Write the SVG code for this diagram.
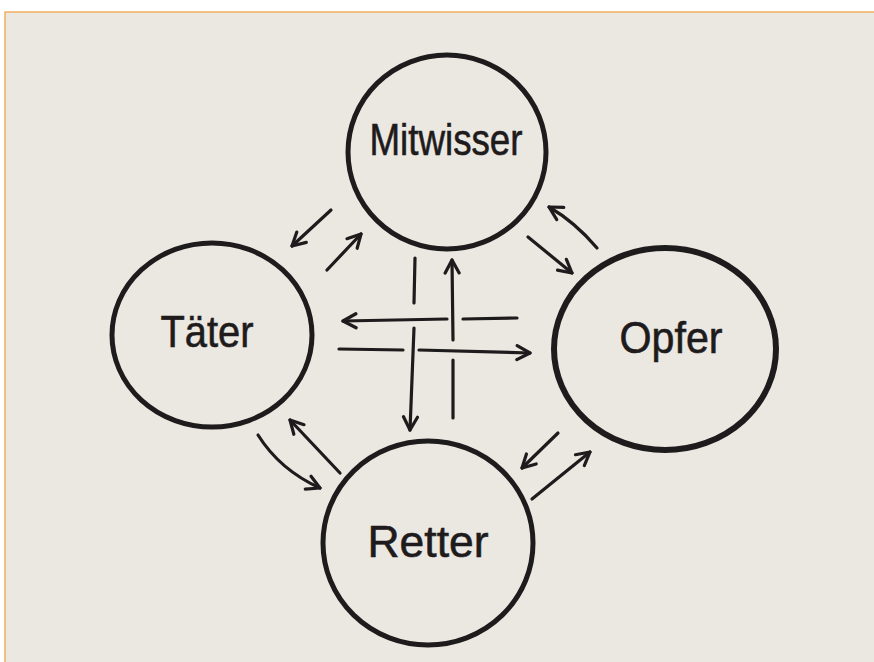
<svg xmlns="http://www.w3.org/2000/svg" width="874" height="662" viewBox="0 0 874 662">
  <defs>
    <marker id="arr" viewBox="0 0 18 18" refX="16" refY="9" markerWidth="18" markerHeight="18" markerUnits="userSpaceOnUse" orient="auto">
      <path d="M3,2 L16,9 L3,16" fill="none" stroke="#1e1b1c" stroke-width="3.2" stroke-linecap="round" stroke-linejoin="round"/>
    </marker>
  </defs>
  <style>
    .ring { fill: none; stroke: #1e1b1c; stroke-width: 5; }
    .lbl { font-family: "Liberation Sans", "DejaVu Sans", sans-serif; font-size: 44px; fill: #1e1b1c; stroke: #1e1b1c; stroke-width: 0.6; text-anchor: middle; }
    .c { fill: none; stroke: #1e1b1c; stroke-width: 3.2; stroke-linecap: round; }
    .a { marker-end: url(#arr); }
  </style>
  <rect x="0" y="0" width="874" height="662" fill="#ffffff"/>
  <rect x="5" y="12" width="869" height="650" fill="#ebe7e1"/>
  <path d="M5,662 L5,12 L874,12" fill="none" stroke="#f0b060" stroke-width="1.5"/>

  <g id="mitwisser">
    <ellipse class="ring" cx="447" cy="152" rx="99" ry="97"/>
    <text class="lbl" x="446" y="155" textLength="153" lengthAdjust="spacingAndGlyphs">Mitwisser</text>
  </g>
  <g id="taeter">
    <ellipse class="ring" cx="212" cy="335" rx="100" ry="92"/>
    <text class="lbl" x="207" y="347" textLength="93" lengthAdjust="spacingAndGlyphs">Täter</text>
  </g>
  <g id="opfer">
    <ellipse class="ring" cx="665" cy="349" rx="111" ry="101" style="stroke-width:6"/>
    <text class="lbl" x="671" y="353" textLength="103" lengthAdjust="spacingAndGlyphs">Opfer</text>
  </g>
  <g id="retter">
    <ellipse class="ring" cx="428" cy="543" rx="105" ry="102"/>
    <text class="lbl" x="428" y="557" textLength="121" lengthAdjust="spacingAndGlyphs">Retter</text>
  </g>

  <g id="connectors">
    <path class="c" d="M517,318 L463,319"/>
    <path class="c a" d="M447,319 L343,321"/>
    <path class="c" d="M339,349 L403,350"/>
    <path class="c a" d="M419,350 L530,353"/>
    <path class="c" d="M415,258 L414,303"/>
    <path class="c a" d="M414,328 L410,430"/>
    <path class="c a" d="M453,340 L452,260"/>
    <path class="c" d="M453,418 L453,360"/>
    <path class="c a" d="M331,210 L292,246"/>
    <path class="c a" d="M327,270 L361,234"/>
    <path class="c a" d="M597,248 Q575,222 549,207"/>
    <path class="c a" d="M528,237 L572,273"/>
    <path class="c a" d="M258,435 Q280,470 320,488"/>
    <path class="c a" d="M340,473 L290,420"/>
    <path class="c a" d="M558,433 L522,468"/>
    <path class="c a" d="M532,499 L590,452"/>
  </g>
</svg>
